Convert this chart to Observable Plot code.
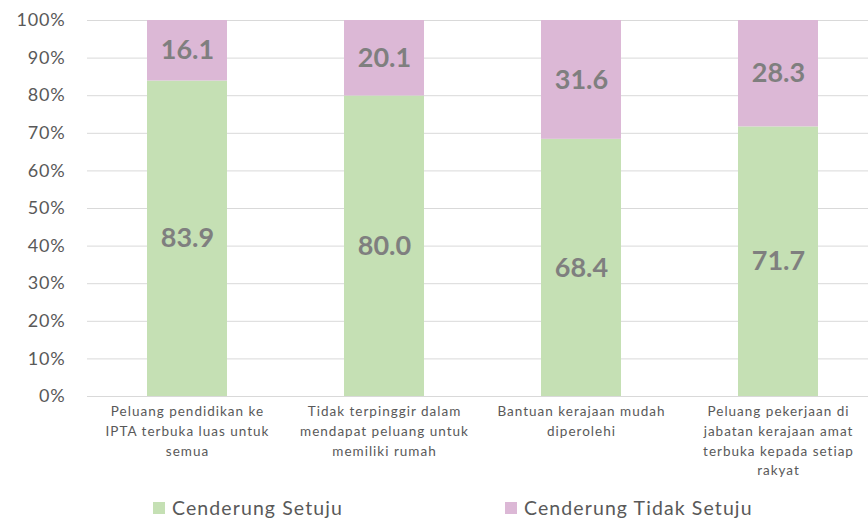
<!DOCTYPE html>
<html>
<head>
<meta charset="utf-8">
<script src="https://cdn.jsdelivr.net/npm/d3@7"></script>
<script src="https://cdn.jsdelivr.net/npm/@observablehq/plot@0.6"></script>
<style>
  body { margin: 0; background: #fff; font-family: Lato, "Open Sans", sans-serif; }
  #chart { width: 868px; }
  .xlab text { letter-spacing: 1px; }
  .ylab text { letter-spacing: 0.8px; }
  .legend { position: relative; height: 35px; font-size: 19.5px; color: #595959; letter-spacing: 1.1px; }
  .legend .item { position: absolute; top: 4px; display: flex; align-items: center; }
  .legend .sw { width: 12px; height: 12px; margin-right: 7px; }
</style>
</head>
<body>
<div id="chart"></div>
<script>
const categories = [
  "Peluang pendidikan ke\nIPTA terbuka luas untuk\nsemua",
  "Tidak terpinggir dalam\nmendapat peluang untuk\nmemiliki rumah",
  "Bantuan kerajaan mudah\ndiperolehi",
  "Peluang pekerjaan di\njabatan kerajaan amat\nterbuka kepada setiap\nrakyat"
];
const seriesNames = ["Cenderung Setuju", "Cenderung Tidak Setuju"];
const setuju = [83.9, 80.0, 68.4, 71.7];
const tidakSetuju = [16.1, 20.1, 31.6, 28.3];
const colors = ["#c5e0b4", "#dcb8d6"];
const yTicks = [0, 0.1, 0.2, 0.3, 0.4, 0.5, 0.6, 0.7, 0.8, 0.9, 1];

const rows = [];
categories.forEach((c, i) => rows.push({cat: c, series: seriesNames[0], value: setuju[i]}));
categories.forEach((c, i) => rows.push({cat: c, series: seriesNames[1], value: tidakSetuju[i]}));

const plot = Plot.plot({
  width: 868,
  height: 492,
  marginTop: 20,
  marginBottom: 96,
  marginLeft: 87,
  marginRight: 0,
  style: {fontFamily: "Lato, 'Open Sans', sans-serif", background: "#fff"},
  x: {domain: categories, range: [87, 877], paddingInner: 0.595, paddingOuter: 0.2975, label: null},
  y: {domain: [0, 1], label: null},
  color: {domain: seriesNames, range: colors},
  marks: [
    Plot.gridY(yTicks, {stroke: "#d9d9d9", strokeOpacity: 1, strokeWidth: 1}),
    Plot.barY(rows, Plot.stackY({offset: "normalize", order: null}, {x: "cat", y: "value", z: "series", fill: "series"})),
    Plot.text(rows, Plot.stackY({offset: "normalize", order: null}, {x: "cat", y: "value", z: "series", text: d => d.value.toFixed(1), fill: "#7f7f7f", fontWeight: "bold", fontSize: 27, dy: 0})),
    Plot.ruleY([0], {stroke: "#d9d9d9", strokeWidth: 1}),
    Plot.axisY({ticks: yTicks, tickFormat: d3.format(".0%"), tickSize: 0, tickPadding: 22, fontSize: 18, color: "#595959", label: null, className: "ylab"}),
    Plot.axisX({tickSize: 0, tickPadding: 6, fontSize: 13.5, lineHeight: 1.45, color: "#595959", label: null, className: "xlab"})
  ]
});
document.getElementById("chart").appendChild(plot);

const legend = document.createElement("div");
legend.className = "legend";
const lefts = [153, 505];
seriesNames.forEach((s, i) => {
  const item = document.createElement("div");
  item.className = "item";
  item.style.left = lefts[i] + "px";
  const sw = document.createElement("span");
  sw.className = "sw";
  sw.style.background = colors[i];
  const t = document.createElement("span");
  t.textContent = s;
  item.appendChild(sw);
  item.appendChild(t);
  legend.appendChild(item);
});
document.getElementById("chart").appendChild(legend);
</script>
</body>
</html>
